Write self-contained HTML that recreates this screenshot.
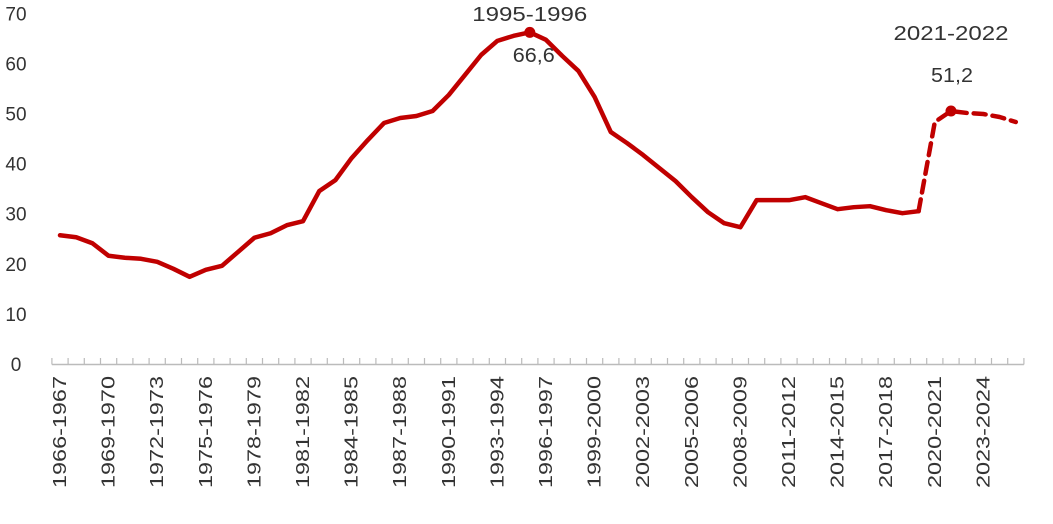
<!DOCTYPE html>
<html><head><meta charset="utf-8">
<style>
body{margin:0;background:#fff;}
svg{display:block;font-family:"Liberation Sans",sans-serif;}
</style></head>
<body>
<svg id="chart" width="1053" height="524" viewBox="0 0 1053 524" xmlns="http://www.w3.org/2000/svg"></svg>
<script>
const startYears = [];
for (let y = 1966; y <= 2025; y++) startYears.push(y);
const categories = startYears.map(y => y + '-' + (y + 1));
const values = [25.7,25.3,24.1,21.6,21.2,21.0,20.4,19.0,17.4,18.8,19.6,22.4,25.2,26.1,27.7,28.5,34.5,36.7,41.1,44.7,48.1,49.1,49.5,50.5,53.7,57.7,61.7,64.5,65.5,66.2,64.7,61.5,58.5,53.3,46.3,44.1,41.7,39.1,36.5,33.3,30.3,28.1,27.3,32.7,32.7,32.7,33.3,32.1,30.9,31.3,31.5,30.7,30.1,30.5,48.3,50.5,50.1,49.9,49.3,48.3];
const yTicks = [0,10,20,30,40,50,60,70];
const solidEnd = 53;
const annotations = [
  {idx: 29, title: '1995-1996', value: '66,6', ty: 21, vy: 62, vx: 4},
  {idx: 55, title: '2021-2022', value: '51,2', ty: 40, vy: 82, vx: 1}
];
const NS = 'http://www.w3.org/2000/svg';
const svg = document.getElementById('chart');
const x = i => 60 + i * 16.2;
const y = v => 364 - v * 5.01;
function mk(tag, attrs, parent) {
  const e = document.createElementNS(NS, tag);
  for (const k in attrs) e.setAttribute(k, attrs[k]);
  (parent || svg).appendChild(e);
  return e;
}
yTicks.forEach(t => {
  const tx = mk('text', {x: 16, y: y(t) + 7, 'text-anchor': 'middle', 'font-size': 19, fill: '#333'});
  
  
  tx.textContent = t;
});
const ax = mk('line', {x1: x(0) - 8.1, x2: x(values.length - 1) + 8.1, y1: 364.5, y2: 364.5, stroke: '#bbb', 'stroke-width': 1.5});


for (let i = 0; i <= categories.length; i++) {
  const tx0 = x(i) - 8.1;
  const tk = mk('line', {x1: tx0, x2: tx0, y1: 358, y2: 364.5, stroke: '#bbb', 'stroke-width': 1.2});
  
  
}
categories.forEach((c, i) => {
  if (i % 3 !== 0) return;
  const lx = x(i) + 6;
  const t = mk('text', {x: lx, y: 376, transform: `rotate(-90 ${lx} 376)`, 'text-anchor': 'end', 'font-size': 18, fill: '#333', textLength: 112, lengthAdjust: 'spacingAndGlyphs'});
  
  
  t.textContent = c;
});
const solidPts = values.slice(0, solidEnd + 1).map((v, i) => x(i) + ',' + y(v)).join(' ');
const dashPts = values.slice(solidEnd).map((v, i) => x(i + solidEnd) + ',' + y(v)).join(' ');
const l1 = mk('polyline', {points: solidPts, fill: 'none', stroke: '#c00000', 'stroke-width': 4.5, 'stroke-linejoin': 'round', 'stroke-linecap': 'round'});


const l2 = mk('polyline', {points: dashPts, fill: 'none', stroke: '#c00000', 'stroke-width': 4.5, 'stroke-dasharray': '12 7', 'stroke-linejoin': 'round', 'stroke-linecap': 'round'});


annotations.forEach(a => {
  const cx = x(a.idx), cy = y(values[a.idx]);
  const d = mk('circle', {cx: cx, cy: cy, r: 5.5, fill: '#c00000'});
  
  
  const t1 = mk('text', {x: cx, y: a.ty, 'text-anchor': 'middle', 'font-size': 20, fill: '#333', textLength: 115, lengthAdjust: 'spacingAndGlyphs'});
  
  
  t1.textContent = a.title;
  const t2 = mk('text', {x: cx + a.vx, y: a.vy, 'text-anchor': 'middle', 'font-size': 20, fill: '#333', textLength: 42, lengthAdjust: 'spacingAndGlyphs'});
  
  
  t2.textContent = a.value;
});
</script>
</body></html>
